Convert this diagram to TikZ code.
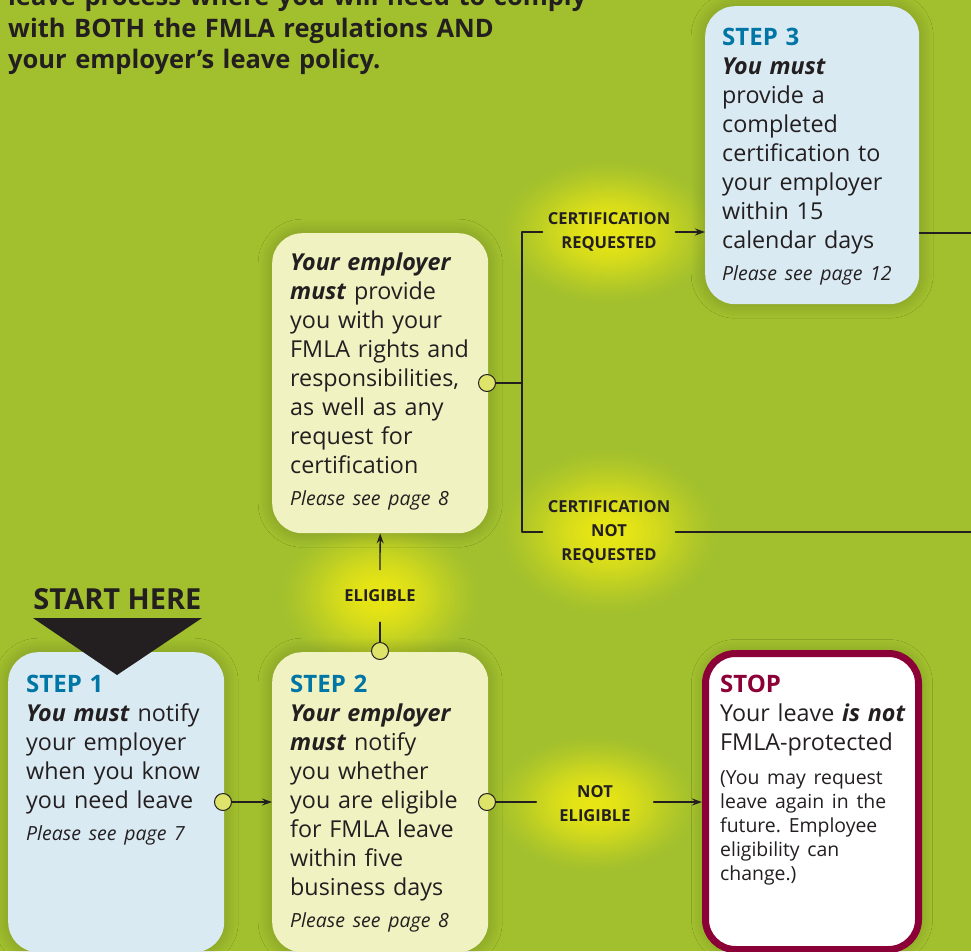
\documentclass[tikz,border=0pt]{standalone}
\usepackage{fontspec}
\setmainfont{Open Sans}
\usetikzlibrary{arrows.meta,calc,positioning,shadows.blur}

\definecolor{leafgreen}{RGB}{162,192,46}
\definecolor{stepblue}{RGB}{0,118,166}
\definecolor{paleblue}{RGB}{218,234,243}
\definecolor{paleyellow}{RGB}{240,242,194}
\definecolor{stopred}{RGB}{139,0,55}
\definecolor{ink}{RGB}{35,31,32}
\definecolor{dotfill}{RGB}{222,227,106}
\definecolor{glowyellow}{RGB}{233,230,20}

\newcommand{\stephead}[2][stepblue]{{\color{#1}\fontsize{24}{29}\selectfont\bfseries #2}}
\newcommand{\seepage}[1]{\par\vspace{8pt}{\fontsize{19.5}{24}\selectfont\itshape #1\par}}
\newcommand{\bi}[1]{\textbf{\textit{#1}}}
% soft yellow spot: centre, x radius, y radius
\newcommand{\glowat}[3]{%
	\foreach \k in {0,...,39}{%
		\pgfmathsetmacro{\gr}{1-\k/40}%
		\pgfmathtruncatemacro{\gp}{100*(1-\gr*\gr)^2}%
		\fill[glowyellow!\gp!leafgreen] (#1) ellipse [x radius=#2*\gr, y radius=#3*\gr];}}

\begin{document}
\frenchspacing
\begin{tikzpicture}[x=1pt, y=-1pt, >={Stealth[length=10pt,width=7pt]}, line cap=round, line join=round,
	card/.style={rounded corners=30pt, anchor=north west,
		blur shadow={shadow xshift=0pt, shadow yshift=0pt, shadow blur radius=14pt, shadow blur steps=24, shadow opacity=22}},
	cardtext/.style={anchor=base west, align=left, text width=205pt, inner sep=0pt, text=ink,
		font=\fontsize{23.3}{29}\selectfont},
	glowlabel/.style={align=center, inner sep=5pt, text=ink, font=\fontsize{16.5}{24}\selectfont\bfseries},
	dot/.style={circle, draw=ink, fill=dotfill, line width=1pt, minimum size=17pt, inner sep=0pt},
	wire/.style={draw=ink, line width=1.3pt}]
	
	\useasboundingbox (0,0) rectangle (971,951);
	\fill[leafgreen] (0,0) rectangle (971,951);
	\clip (0,0) rectangle (971,951);
	
	% label spots and the right edge
	\coordinate (reqpos) at (609,232);
	\coordinate (notreqpos) at (609,532);
	\coordinate (eligpos) at (380,596);
	\coordinate (notelpos) at (595,804);
	\coordinate (fork) at (522,383);
	\coordinate (edgetop) at (971,233);
	\coordinate (edgebot) at (971,533);
	
	% yellow glows behind the labels
	\glowat{reqpos}{118}{78}
	\glowat{notreqpos}{118}{90}
	\glowat{eligpos}{108}{82}
	\glowat{notelpos}{110}{74}
	
	% intro text (cut at the top)
	\node[anchor=base west, align=left, inner sep=0pt, text width=620pt, text=ink,
		font=\fontsize{25.5}{31.5}\selectfont\bfseries] (intro) at (8,5.5)
		{leave process where you will need to comply\\
		with BOTH the FMLA regulations AND\\
		your employer’s leave policy.};
	
	% cards
	\node[card, fill=paleblue, minimum width=216pt, minimum height=300pt] (step1) at (8,652) {};
	\node[card, fill=paleyellow, minimum width=216pt, minimum height=300pt] (step2) at (272,652) {};
	\node[card, fill=paleyellow, minimum width=216pt, minimum height=300pt] (rights) at (272,233) {};
	\node[card, fill=paleblue, minimum width=214pt, minimum height=298pt] (step3) at (705,6) {};
	\node[card, fill=white, draw=stopred, line width=7pt, minimum width=213pt, minimum height=296pt] (stop) at (702,650) {};
	
	% start marker
	\fill[ink] (33,618) -- (202,618) -- (117,675) -- cycle;
	\node[anchor=base, inner sep=0pt, text=ink, font=\fontsize{29}{30}\selectfont\bfseries] (start) at (117.5,609) {START HERE};
	
	% card texts
	\node[cardtext] (step1text) at (26,692) {\stephead{STEP 1}\\
		\bi{You must} notify\\
		your employer\\
		when you know\\
		you need leave\seepage{Please see page 7}};
	
	\node[cardtext] (step2text) at (290,692) {\stephead{STEP 2}\\
		\bi{Your employer}\\
		\bi{must} notify\\
		you whether\\
		you are eligible\\
		for FMLA leave\\
		within five\\
		business days\seepage{Please see page 8}};
	
	\node[cardtext] (rightstext) at (290,270) {\bi{Your employer}\\
		\bi{must} provide\\
		you with your\\
		FMLA rights and\\
		responsibilities,\\
		as well as any\\
		request for\\
		certification\seepage{Please see page 8}};
	
	\node[cardtext] (step3text) at (722,45) {\stephead{STEP 3}\\
		\bi{You must}\\
		provide a\\
		completed\\
		certification to\\
		your employer\\
		within 15\\
		calendar days\seepage{Please see page 12}};
	
	\node[cardtext, text width=195pt] (stoptext) at (720,692) {\stephead[stopred]{STOP}\\
		Your leave \bi{is not}\\
		FMLA-protected\par\vspace{10pt}%
		{\fontsize{19.4}{24}\selectfont (You may request\\
		leave again in the\\
		future. Employee\\
		eligibility can\\
		change.)\par}};
	
	% labels
	\node[glowlabel] (certreq) at (reqpos) {CERTIFICATION\\REQUESTED};
	\node[glowlabel] (certnot) at (notreqpos) {CERTIFICATION\\NOT\\REQUESTED};
	\node[glowlabel, minimum height=52pt] (eligible) at (eligpos) {ELIGIBLE};
	\node[glowlabel, minimum width=117pt] (noteligible) at (notelpos) {NOT\\ELIGIBLE};
	
	% dots on the card edges
	\node[dot] (dot1) at (223,802) {};
	\node[dot] (dot2) at (487,802) {};
	\node[dot] (dot2top) at (380,651) {};
	\node[dot] (dot3) at (487,383) {};
	
	% connectors
	\draw[wire, ->] (dot1) -- (dot1 -| step2.west);
	\draw[wire] (dot2) -- (dot2 -| noteligible.west);
	\draw[wire, ->] (dot2 -| noteligible.east) -- (dot2 -| stop.west);
	\draw[wire] (dot2top) -- (eligible.south);
	\draw[wire, ->] (eligible.north) -- (rights.south);
	\draw[wire] (dot3) -- (fork);
	\draw[wire] (certreq.west) -- (certreq.west -| fork) -- (certnot.west -| fork) -- (certnot.west);
	\draw[wire, ->] (certreq.east) -- (certreq.east -| step3.west);
	\draw[wire] (step3.east |- edgetop) -- (edgetop);
	\draw[wire] (certnot.east) -- (certnot.east -| edgebot);
	
\end{tikzpicture}
\end{document}
